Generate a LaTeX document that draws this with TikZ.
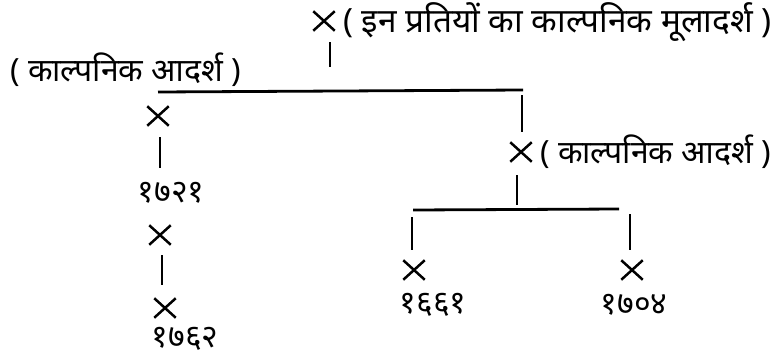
\documentclass[tikz,border=0pt]{standalone}
\usepackage{fontspec}
\newfontfamily\dev[Script=Devanagari]{Noto Sans}
\usetikzlibrary{shapes.misc}
\begin{document}
\begin{tikzpicture}[x=1pt,y=-1pt,
  cr/.style={cross out,draw,minimum width=19pt,minimum height=17pt,line width=2.5pt,inner sep=0pt},
  ln/.style={line width=2.5pt},
  lbl/.style={font=\dev\fontsize{32}{36}\selectfont,inner sep=0pt,anchor=west},
  toplbl/.style={lbl,font=\dev\fontsize{33.4}{38}\selectfont},
  num/.style={font=\dev\fontsize{32}{36}\selectfont,inner sep=0pt}]
\useasboundingbox (0,0) rectangle (775,356);
% top
\node[cr] (t) at (324,21) {};
\node[toplbl] (tl) at (343,22) {( इन प्रतियों का काल्पनिक मूलादर्श )};
\coordinate (t1) at (330,42);
\coordinate (t2) at (330,67);
\draw[ln] (t1) -- (t2);
\coordinate (hl) at (158,92);
\coordinate (hr) at (523,90);
\draw[line width=2.8pt] (hl) -- (hr);
\node[lbl] (ll) at (10,70) {( काल्पनिक आदर्श )};
% left chain
\node[cr] (a) at (158,116) {};
\coordinate (a1) at (160,137);
\coordinate (a2) at (160,168);
\draw[ln] (a1) -- (a2);
\node[num] (n1) at (171,193) {१७२१};
\node[cr] (e) at (160,235) {};
\coordinate (e1) at (162,255);
\coordinate (e2) at (162,285);
\draw[ln] (e1) -- (e2);
\node[cr] (f) at (165,308) {};
\node[num] (n2) at (185,339) {१७६२};
% right branch
\coordinate (r1) at (522,95);
\coordinate (r2) at (522,132);
\draw[ln] (r1) -- (r2);
\node[cr] (b) at (521,152) {};
\node[lbl] (rl) at (540,152) {( काल्पनिक आदर्श )};
\coordinate (b1) at (517,175);
\coordinate (b2) at (517,205);
\draw[ln] (b1) -- (b2);
\coordinate (ml) at (413,210);
\coordinate (mr) at (619,209);
\draw[line width=2.8pt] (ml) -- (mr);
\coordinate (c1) at (412,217);
\coordinate (c2) at (412,250);
\draw[ln] (c1) -- (c2);
\coordinate (d1) at (630,214);
\coordinate (d2) at (630,250);
\draw[ln] (d1) -- (d2);
\node[cr] (c) at (414,270) {};
\node[cr] (d) at (632,270) {};
\node[num] (n3) at (433,305) {१६६१};
\node[num] (n4) at (634,305) {१७०४};
\end{tikzpicture}
\end{document}
